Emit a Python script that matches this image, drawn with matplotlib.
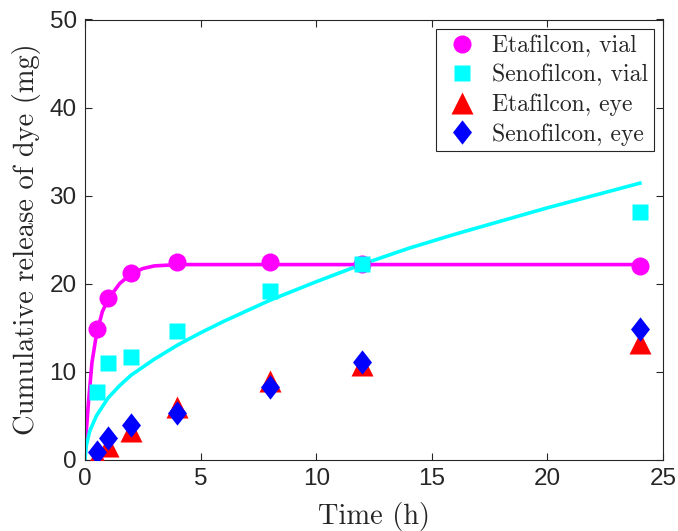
import numpy as np
import matplotlib
matplotlib.use('Agg')
import matplotlib.pyplot as plt
from matplotlib.lines import Line2D
from matplotlib.path import Path

# measured data (mg) at each sampling time (h)
t = [0.5, 1, 2, 4, 8, 12, 24]
eta_vial = [14.8, 18.3, 21.2, 22.4, 22.4, 22.2, 22.0]
seno_vial = [7.7, 11.0, 11.7, 14.6, 19.2, 22.2, 28.1]
eta_eye = [0.3, 1.5, 3.2, 6.0, 8.9, 10.7, 13.2]
seno_eye = [0.9, 2.5, 3.9, 5.3, 8.2, 11.1, 14.8]

# model curves
t_eta_fit = [0, 0.05, 0.15, 0.3, 0.5, 0.75, 1, 1.5, 2, 2.5, 3, 4, 8, 12, 24]
eta_fit = [0, 3.0, 6.5, 11.0, 14.3, 16.8, 18.2, 20.0, 21.1, 21.7, 22.0, 22.15, 22.15, 22.15, 22.15]
t_seno_fit = [0, 0.05, 0.2, 0.5, 1, 1.5, 2, 3, 4, 5, 6, 7, 8, 10, 12, 14, 16, 18, 20, 22, 24]
seno_fit = [0, 1.5, 3.2, 5.0, 7.0, 8.4, 9.6, 11.4, 13.0, 14.4, 15.7, 16.9, 18.1, 20.2, 22.2,
            24.0, 25.6, 27.1, 28.6, 30.0, 31.4]

axcol = '#262626'
plt.rcParams['font.family'] = ['Liberation Sans', 'DejaVu Sans']
plt.rcParams['axes.unicode_minus'] = False

# matlab-style diamond, a bit narrower than tall
diamond = Path([(0, 1), (0.78, 0), (0, -1), (-0.78, 0), (0, 1)],
               [Path.MOVETO, Path.LINETO, Path.LINETO, Path.LINETO, Path.CLOSEPOLY])

fig = plt.figure(figsize=(6.78, 5.31), dpi=100)
ax = fig.add_axes([85/678, 1-459.5/531, (663-85)/678, (459.5-19.5)/531])

ax.plot(t_eta_fit, eta_fit, color='#ff00ff', lw=2.6, zorder=2)
ax.plot(t_seno_fit, seno_fit, color='#00ffff', lw=2.6, zorder=2)
ax.plot(t, eta_vial, 'o', color='#ff00ff', ms=13, mec='none', zorder=3)
ax.plot(t, seno_vial, 's', color='#00ffff', ms=11.5, mec='none', zorder=3)
ax.plot(t, eta_eye, '^', color='#ff0000', ms=16, mec='none', zorder=3)
ax.plot(t, seno_eye, ls='none', marker=diamond, color='#0000ff', ms=17.5, mec='none', zorder=3)

ax.set_xlim(0, 25)
ax.set_ylim(0, 50)
ax.set_xticks([0, 5, 10, 15, 20, 25])
ax.set_yticks([0, 10, 20, 30, 40, 50])
ax.tick_params(direction='in', top=True, right=True, length=5, width=0.8,
               colors=axcol, labelsize=17.5, pad=6)
for s in ax.spines.values():
    s.set_color(axcol)
    s.set_linewidth(0.8)

ax.set_xlabel('Time (h)', family='cmr10', fontsize=20.5, color=axcol, labelpad=9)
ax.set_ylabel('Cumulative release of dye (mg)', family='cmr10', fontsize=20.5,
              color=axcol, labelpad=6)

handles = [
    Line2D([], [], ls='none', marker='o', color='#ff00ff', ms=13, mec='none'),
    Line2D([], [], ls='none', marker='s', color='#00ffff', ms=11.5, mec='none'),
    Line2D([], [], ls='none', marker='^', color='#ff0000', ms=16, mec='none'),
    Line2D([], [], ls='none', marker=diamond, color='#0000ff', ms=17.5, mec='none'),
]
labels = ['Etafilcon, vial', 'Senofilcon, vial', 'Etafilcon, eye', 'Senofilcon, eye']
leg = ax.legend(handles, labels, loc='upper right', prop={'family': 'cmr10', 'size': 17},
                fancybox=False, framealpha=1, edgecolor=axcol, borderaxespad=0.4,
                handletextpad=0.4, labelspacing=0.3, borderpad=0.25, handlelength=1.7)
leg.get_frame().set_linewidth(0.8)
for txt in leg.get_texts():
    txt.set_color(axcol)

fig.savefig('out.png', dpi=100)
